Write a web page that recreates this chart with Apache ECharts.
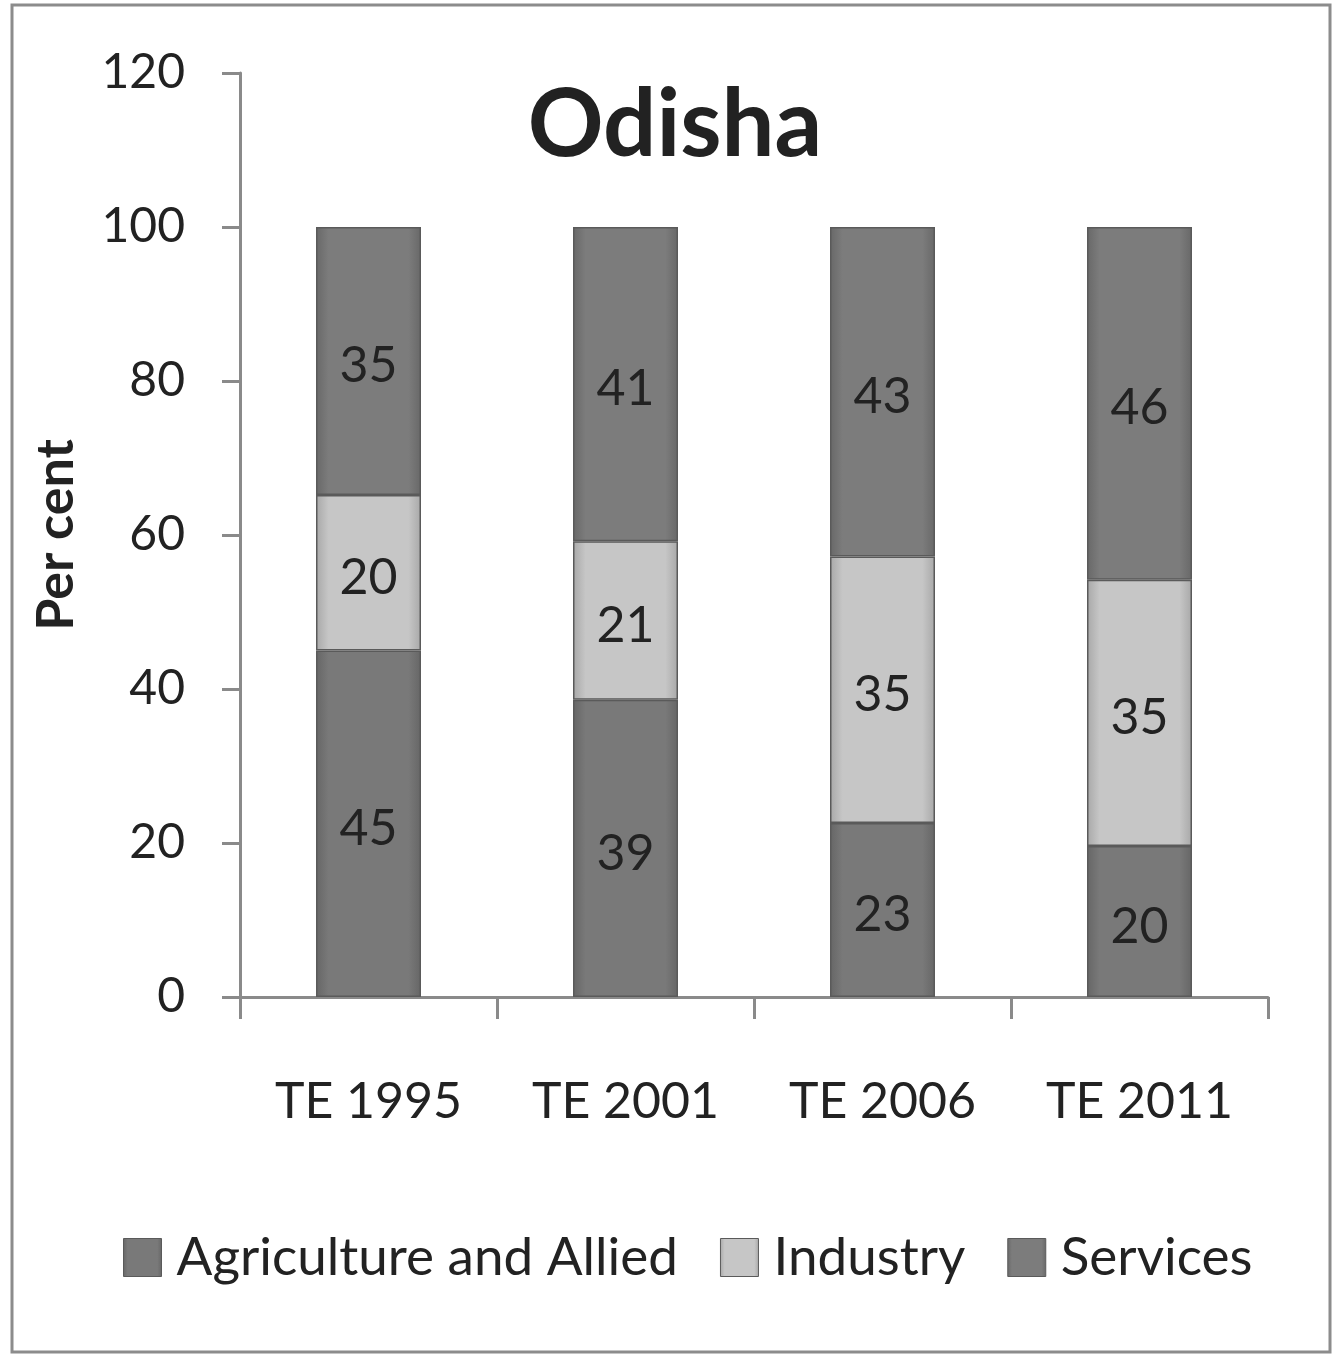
<!DOCTYPE html>
<html>
<head>
<meta charset="utf-8">
<script src="https://cdn.jsdelivr.net/npm/echarts@6/dist/echarts.min.js"></script>
<style>html,body{margin:0;padding:0;background:#fff}#c{width:1336px;height:1357px}</style>
</head>
<body>
<div id="c"></div>
<script>
const categories = ['TE 1995', 'TE 2001', 'TE 2006', 'TE 2011'];
const agriculture = [45.0, 38.6, 22.6, 19.6];
const industry = [20.2, 20.6, 34.6, 34.6];
const services = [34.8, 40.8, 42.8, 45.8];
const yTicks = [0, 20, 40, 60, 80, 100, 120];

const FONT = 'Lato';
const chart = echarts.init(document.getElementById('c'), null, {renderer: 'canvas'});

function mk(name, data, color, edge) {
  return {
    name: name, type: 'bar', stack: 'total', data: data, barWidth: 105,
    itemStyle: {
      color: new echarts.graphic.LinearGradient(0, 0, 1, 0, [
        {offset: 0, color: edge}, {offset: 0.12, color: color},
        {offset: 0.88, color: color}, {offset: 1, color: edge}]),
      borderColor: '#5a5a5a', borderWidth: 1.5},
    label: {show: true, position: 'inside', fontFamily: FONT, fontSize: 50, color: '#222',
      offset: [0, 5], formatter: p => Math.round(p.value)},
    emphasis: {disabled: true}
  };
}

chart.setOption({
  animation: false,
  backgroundColor: '#fff',
  title: {text: 'Odisha', left: 670, top: 74, textAlign: 'center',
    textStyle: {fontFamily: FONT, fontWeight: 'bold', fontSize: 94, color: '#222'}},
  graphic: [{type: 'rect', shape: {x: 12, y: 5, width: 1318, height: 1347},
    style: {fill: 'none', stroke: '#8c8c8c', lineWidth: 3}, silent: true}],
  legend: {top: 1226, left: 118, itemWidth: 38, itemHeight: 38, itemGap: 42,
    icon: 'rect',
    itemStyle: {borderColor: '#5a5a5a', borderWidth: 1},
    textStyle: {fontFamily: FONT, fontSize: 53, color: '#222', padding: [0, 0, 0, 10]},
    data: ['Agriculture and Allied', 'Industry', 'Services']},
  grid: {left: 240, right: 68, top: 73, bottom: 360, containLabel: false},
  xAxis: {type: 'category', data: categories,
    axisLine: {lineStyle: {color: '#8a8a8a', width: 3}},
    axisTick: {show: true, length: 22, lineStyle: {color: '#8a8a8a', width: 3}},
    axisLabel: {fontFamily: FONT, fontSize: 50, color: '#222', margin: 80}},
  yAxis: {type: 'value', min: 0, max: 120, interval: 20,
    name: 'Per cent', nameLocation: 'middle', nameGap: 158, nameRotate: 90,
    nameTextStyle: {fontFamily: FONT, fontSize: 52, color: '#222', fontWeight: 'bold'},
    axisLine: {show: true, lineStyle: {color: '#8a8a8a', width: 3}},
    axisTick: {show: true, length: 18, lineStyle: {color: '#8a8a8a', width: 3}},
    splitLine: {show: false},
    axisLabel: {fontFamily: FONT, fontSize: 48, color: '#222', margin: 55,
      formatter: v => yTicks.includes(v) ? String(v) : ''}},
  series: [
    mk('Agriculture and Allied', agriculture, '#797979', '#666666'),
    mk('Industry', industry, '#c6c6c6', '#a8a8a8'),
    mk('Services', services, '#7c7c7c', '#686868')
  ]
});
</script>
</body>
</html>
